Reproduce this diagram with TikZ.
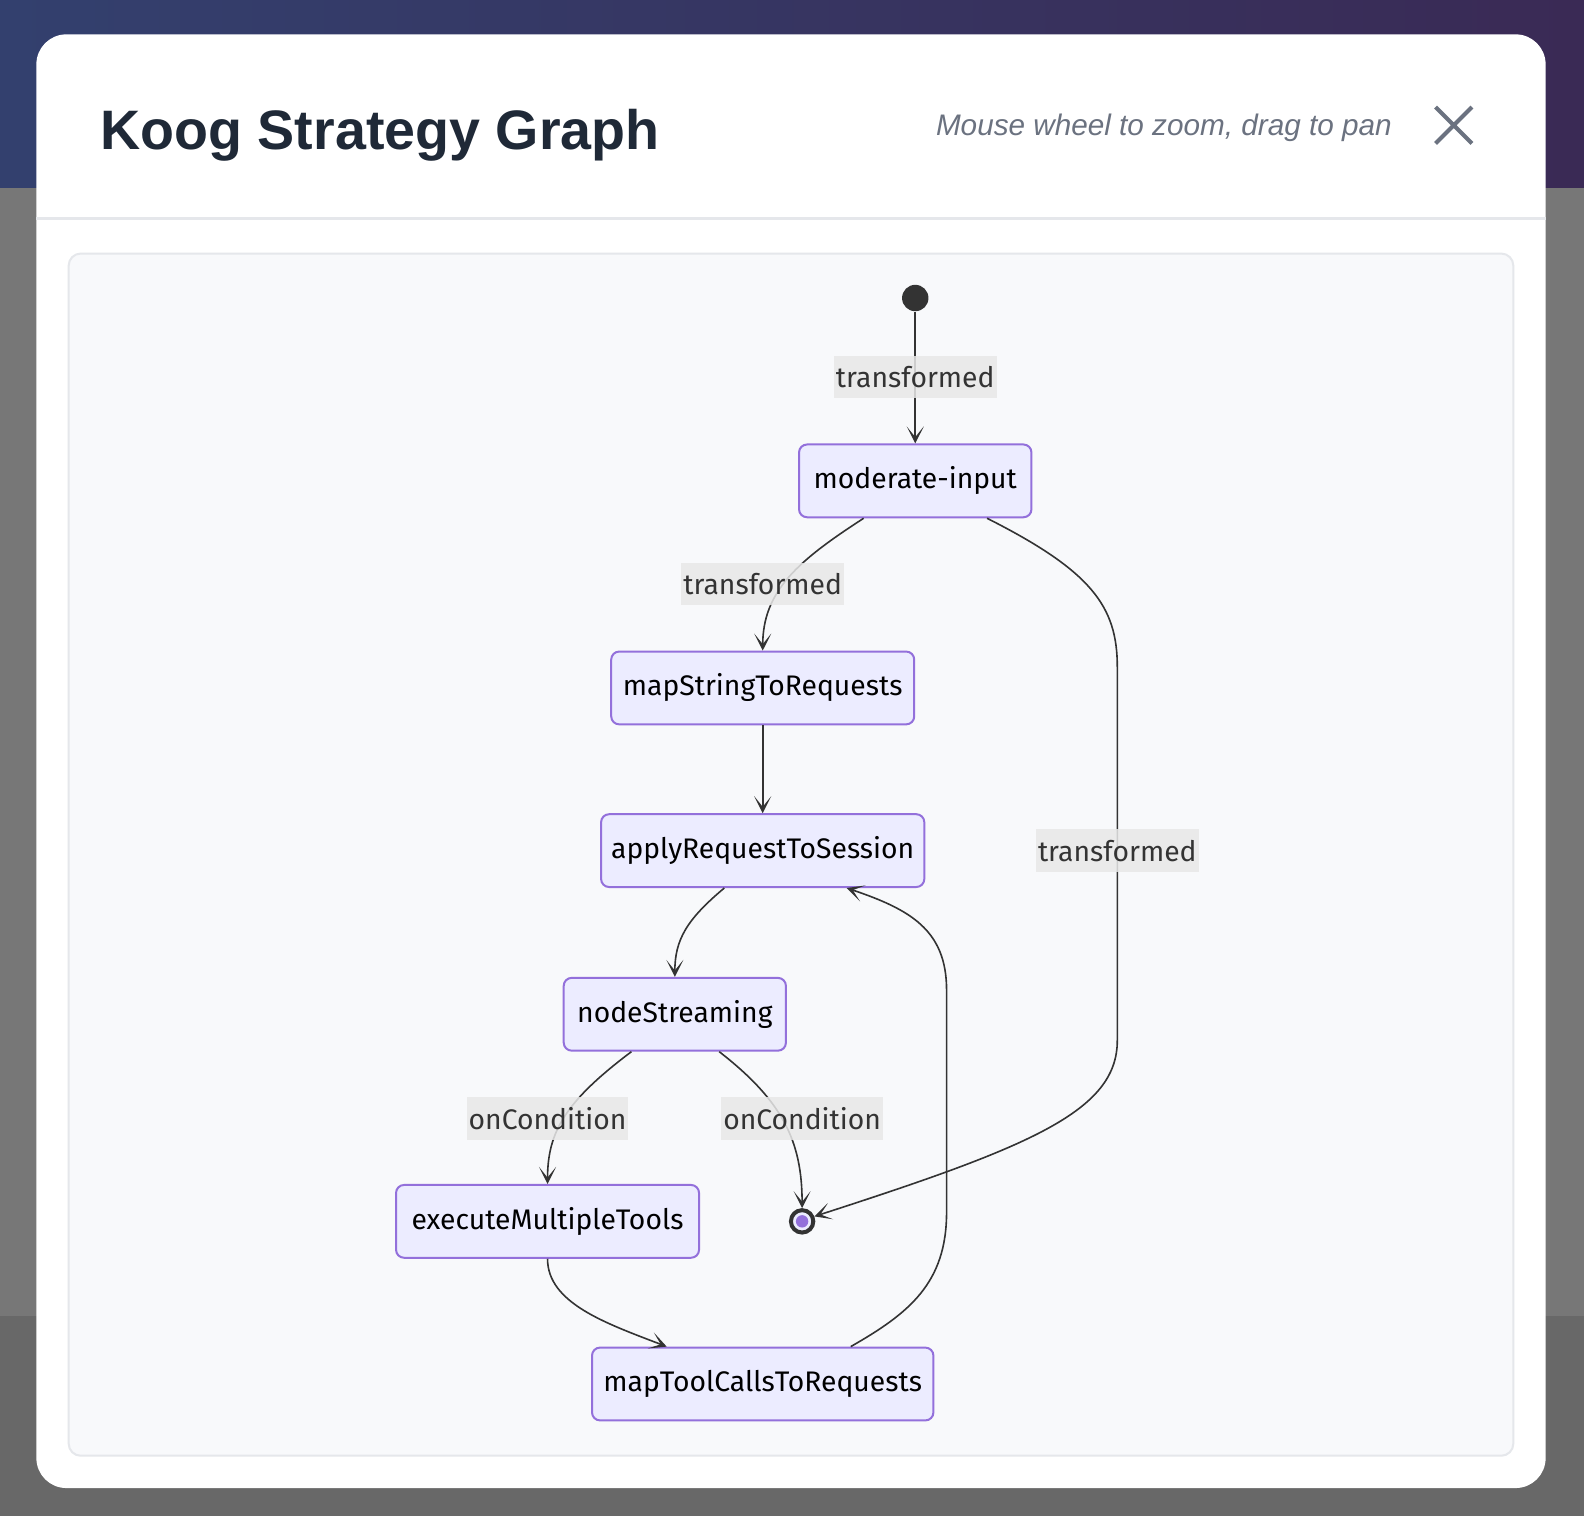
\documentclass[tikz,border=0pt]{standalone}
\usepackage{fontspec}
\setsansfont{Fira Sans}
\newfontfamily\headfont{Liberation Sans}
\usetikzlibrary{arrows.meta}

\definecolor{backleft}{HTML}{33406E}
\definecolor{backright}{HTML}{3A2A55}
\definecolor{greytop}{HTML}{777777}
\definecolor{greybot}{HTML}{686868}
\definecolor{sepcol}{HTML}{E5E7EB}
\definecolor{panelfill}{HTML}{F8F9FB}
\definecolor{titlecol}{HTML}{1F2937}
\definecolor{hintcol}{HTML}{6B7280}
\definecolor{nodefill}{HTML}{ECECFF}
\definecolor{nodeborder}{HTML}{9370DB}
\definecolor{edgecol}{HTML}{333333}
\definecolor{lblfill}{HTML}{E8E8E8}

\tikzstyle{box}=[rectangle,draw=nodeborder,line width=1pt,rounded corners=4pt,fill=nodefill,minimum height=36.4pt,inner xsep=0pt,text=black]
\tikzstyle{lbl}=[fill=lblfill,fill opacity=0.85,text opacity=1,text=edgecol,minimum height=21.2pt,inner xsep=1pt,inner ysep=0pt]
\tikzstyle{edge}=[draw=edgecol,line width=0.8pt,-{Stealth[length=8.5pt,width=8.5pt,inset=5.3pt]}]

\begin{document}
\begin{tikzpicture}[x=0.5051pt,y=-0.5051pt,font=\sffamily\fontsize{14.15}{16}\selectfont]
  \useasboundingbox (0,0) rectangle (1568,1500.7);
  % backdrop
  \shade[left color=backleft,right color=backright] (0,0) rectangle (1568,186);
  \fill[greytop] (0,186) rectangle (1568,1303);
  \fill[greybot] (0,1303) rectangle (1568,1501);
  % window
  \fill[white,rounded corners=15pt] (36,34) rectangle (1530,1473);
  \draw[sepcol,line width=1.5pt] (36,216) -- (1530,216);
  \node[anchor=base west,inner sep=0,text=titlecol,font=\headfont\bfseries\fontsize{27.8}{30}\selectfont] (title) at (99,148) {Koog Strategy Graph};
  \node[anchor=base east,inner sep=0,text=hintcol,font=\headfont\itshape\fontsize{14.85}{17}\selectfont] (hint) at (1378,134) {Mouse wheel to zoom, drag to pan};
  \draw[hintcol,line width=2pt] (1421,106) -- (1457,142) (1421,142) -- (1457,106);
  \draw[sepcol,fill=panelfill,line width=1pt,rounded corners=6pt] (68,251) rectangle (1498,1441);

  % states
  \node[circle,fill=edgecol,minimum size=13.2pt,inner sep=0] (start) at (906,295) {};
  \node[box,minimum width=116.2pt] (moderate) at (906,476) {moderate-input};
  \node[box,minimum width=151.5pt] (mapstring) at (755,681) {mapStringToRequests};
  \node[box,minimum width=161.6pt] (applyreq) at (755,842) {applyRequestToSession};
  \node[box,minimum width=111.1pt] (nodestream) at (668,1004) {nodeStreaming};
  \node[box,minimum width=151.5pt] (execmulti) at (542,1209) {executeMultipleTools};
  \node[box,minimum width=170.7pt] (maptool) at (755,1370) {mapToolCallsToRequests};
  \node[circle,draw=edgecol,line width=2pt,fill=nodefill,minimum size=11.2pt,inner sep=0] (stop) at (794,1209) {};
  \node[circle,fill=nodeborder,minimum size=6.2pt,inner sep=0] (stopdot) at (stop) {};

  % transitions
  \draw[edge] (start) -- (moderate);
  \draw[edge] ([xshift=-25.8pt]moderate.south) .. controls (790,555) and (755,585) .. (mapstring.north);
  \draw[edge] ([xshift=35.9pt]moderate.south) .. controls (1080,565) and (1106,600) .. (1106,660) -- (1106,1030) .. controls (1106,1100) and (1020,1135) .. (stop.22);
  \draw[edge] (mapstring) -- (applyreq);
  \draw[edge] ([xshift=-19.2pt]applyreq.south) .. controls (680,910) and (668,930) .. (nodestream.north);
  \draw[edge] ([xshift=-21.7pt]nodestream.south) .. controls (560,1090) and (542,1120) .. (execmulti.north);
  \draw[edge] ([xshift=22.2pt]nodestream.south) .. controls (775,1090) and (794,1130) .. (stop.north);
  \draw[edge] (execmulti.south) .. controls (542,1290) and (600,1310) .. ([xshift=-48pt]maptool.north);
  \draw[edge] ([xshift=44pt]maptool.north) .. controls (900,1300) and (937,1270) .. (937,1200) -- (937,980) .. controls (937,920) and (900,900) .. ([xshift=42pt]applyreq.south);

  % edge labels
  \node[lbl] (trans1) at (906,373) {transformed};
  \node[lbl] (trans2) at (755,578) {transformed};
  \node[lbl] (trans3) at (1106,842) {transformed};
  \node[lbl] (cond1) at (542,1107) {onCondition};
  \node[lbl] (cond2) at (794,1107) {onCondition};
\end{tikzpicture}
\end{document}
